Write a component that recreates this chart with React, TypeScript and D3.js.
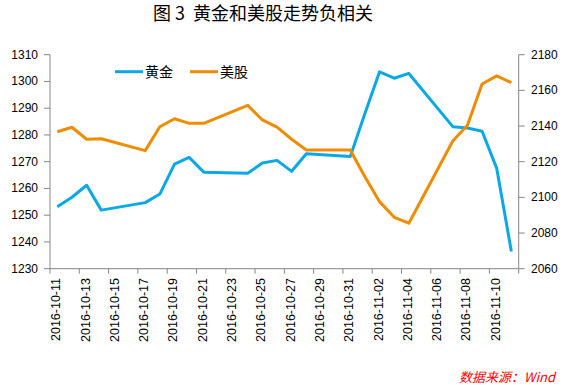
import React from "react";
import * as d3 from "d3";

const dates = [
  "2016-10-11", "2016-10-12", "2016-10-13", "2016-10-14",
  "2016-10-17", "2016-10-18", "2016-10-19", "2016-10-20", "2016-10-21",
  "2016-10-24", "2016-10-25", "2016-10-26", "2016-10-27", "2016-10-28",
  "2016-10-31", "2016-11-01", "2016-11-02", "2016-11-03", "2016-11-04",
  "2016-11-07", "2016-11-08", "2016-11-09", "2016-11-10", "2016-11-11",
];
const gold = [
  1253.2, 1256.7, 1261.2, 1251.9,
  1254.7, 1257.9, 1269.1, 1271.6, 1266.1,
  1265.7, 1269.5, 1270.5, 1266.4, 1273.0,
  1271.9, 1288.0, 1303.6, 1301.2, 1303.0,
  1283.1, 1282.6, 1281.4, 1267.5, 1236.4,
];
const spx = [
  2136.8, 2139.3, 2132.6, 2132.9,
  2126.2, 2139.6, 2144.1, 2141.5, 2141.5,
  2151.6, 2143.4, 2139.4, 2132.6, 2126.6,
  2126.6, 2111.6, 2097.6, 2088.8, 2085.5,
  2131.6, 2140.4, 2163.6, 2168.1, 2164.3,
];
const leftTicks = [1230, 1240, 1250, 1260, 1270, 1280, 1290, 1300, 1310];
const rightTicks = [2060, 2080, 2100, 2120, 2140, 2160, 2180];
const title = "图\u00a03\u00a0\u00a0黄金和美股走势负相关";
const seriesNames = ["黄金", "美股"];
const source = "数据来源：Wind";

const BLUE = "#0aa8e6";
const ORANGE = "#ef8c00";
const AXIS = "#868686";
const FONT = "'Liberation Sans', Arial, sans-serif";
const CJK = "'Noto Sans CJK SC', sans-serif";

export default function App() {
  const W = 566, H = 385;
  const left = 50, right = 518.7, top = 54.7, bottom = 268.7;
  const parse = d3.utcParse("%Y-%m-%d");
  const start = parse("2016-10-11")!;
  const end = d3.utcDay.offset(start, 32);
  const x = d3.scaleUtc().domain([start, end]).range([left, right]);
  const mid = (d: Date) => x(new Date(d.getTime() + 12 * 3600 * 1000));
  const yL = d3.scaleLinear().domain([1230, 1310]).range([bottom, top]);
  const yR = d3.scaleLinear().domain([2060, 2180]).range([bottom, top]);
  const pts = dates.map((s) => parse(s)!);
  const lineL = d3.line<number>().x((_, i) => mid(pts[i])).y((v) => yL(v));
  const lineR = d3.line<number>().x((_, i) => mid(pts[i])).y((v) => yR(v));
  const tickDates = d3.utcDay.range(start, d3.utcDay.offset(end, 1), 2);
  const labelDates = tickDates.filter((d) => d < end);
  const fmt = d3.utcFormat("%Y-%m-%d");

  return (
    <svg width={W} height={H} style={{ position: "absolute", left: 0, top: 0 }}>
      <rect width={W} height={H} fill="#fff" />
      <text x={263} y={20} textAnchor="middle" fontFamily={CJK} fontWeight={400} fontSize={18} fill="#000">
        {title}
      </text>
      {/* left axis */}
      <line x1={left} x2={left} y1={top} y2={bottom} stroke={AXIS} />
      {leftTicks.map((t) => (
        <g key={t}>
          <line x1={left - 6} x2={left} y1={yL(t)} y2={yL(t)} stroke={AXIS} />
          <text x={38} y={yL(t) + 4} textAnchor="end" fontFamily={FONT} fontSize={12} fill="#000">
            {t}
          </text>
        </g>
      ))}
      {/* right axis */}
      <line x1={right} x2={right} y1={top} y2={bottom} stroke={AXIS} />
      {rightTicks.map((t) => (
        <g key={t}>
          <line x1={right} x2={right + 6} y1={yR(t)} y2={yR(t)} stroke={AXIS} />
          <text x={531} y={yR(t) + 4} textAnchor="start" fontFamily={FONT} fontSize={12} fill="#000">
            {t}
          </text>
        </g>
      ))}
      {/* x axis */}
      <line x1={left} x2={right} y1={bottom} y2={bottom} stroke={AXIS} />
      {tickDates.map((d) => (
        <line key={d.getTime()} x1={x(d)} x2={x(d)} y1={bottom} y2={bottom + 5} stroke={AXIS} />
      ))}
      {labelDates.map((d) => (
        <text
          key={"l" + d.getTime()}
          transform={`translate(${mid(d) + 3},${278}) rotate(-90)`}
          textAnchor="end"
          fontFamily={FONT}
          fontSize={12.5}
          fill="#000"
        >
          {fmt(d)}
        </text>
      ))}
      {/* lines */}
      <path d={lineL(gold)!} fill="none" stroke={BLUE} strokeWidth={3} strokeLinejoin="round" />
      <path d={lineR(spx)!} fill="none" stroke={ORANGE} strokeWidth={3} strokeLinejoin="round" />
      {/* legend */}
      <line x1={115} x2={143} y1={71.7} y2={71.7} stroke={BLUE} strokeWidth={3} />
      <text x={145} y={77} fontFamily={CJK} fontSize={14} fill="#000">{seriesNames[0]}</text>
      <line x1={190} x2={218} y1={71.7} y2={71.7} stroke={ORANGE} strokeWidth={3} />
      <text x={220} y={77} fontFamily={CJK} fontSize={14} fill="#000">{seriesNames[1]}</text>
      {/* source */}
      <text x={459} y={382} fontFamily={CJK} fontStyle="italic" fontSize={13} fill="#ff0000">
        {source}
      </text>
    </svg>
  );
}
